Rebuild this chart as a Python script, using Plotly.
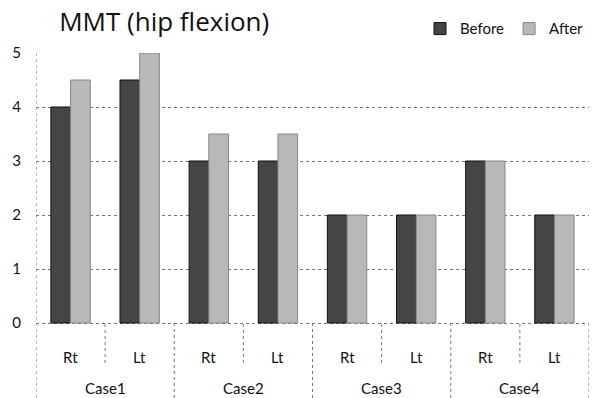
import plotly.graph_objects as go

cases = ["Case1", "Case2", "Case3", "Case4"]
sides = ["Rt", "Lt"]
before = [4, 4.5, 3, 3, 2, 2, 3, 2]
after = [4.5, 5, 3.5, 3.5, 2, 2, 3, 2]
yticks = [0, 1, 2, 3, 4, 5]

n = len(cases) * len(sides)
xs = list(range(n))
tick_text = [sides[i % 2] for i in xs]

FONT = "Lato"
fig = go.Figure()
fig.add_trace(go.Bar(x=xs, y=before, name="Before",
                     marker=dict(color="#454545", line=dict(color="#111111", width=1))))
fig.add_trace(go.Bar(x=xs, y=after, name="After",
                     marker=dict(color="#b8b8b8", line=dict(color="#888888", width=1))))

# the category label rows live below y=0 inside the plotting area (54 px per unit)
u = 1 / 54.0
y_bottom = -75 * u
y_inner = -40 * u

# divider lines as one line trace (None breaks between segments)
dx, dy = [-0.5, -0.5, None], [y_bottom, max(yticks), None]
for i in range(1, n + 1):
    outer = (i % 2 == 0)
    dx += [i - 0.5, i - 0.5, None]
    dy += [y_bottom if outer else y_inner, 0, None]
fig.add_trace(go.Scatter(x=dx, y=dy, mode="lines", showlegend=False, hoverinfo="skip",
                         line=dict(color="#777777", width=1, dash="dot")))

annotations = []
for k, c in enumerate(cases):
    annotations.append(dict(x=2 * k + 0.5, y=-65 * u, xref="x", yref="y", text=c,
                            showarrow=False, xanchor="center", yanchor="middle",
                            font=dict(family=FONT, size=15, color="#111111")))
for i in xs:
    annotations.append(dict(x=i, y=-34 * u, xref="x", yref="y", text=tick_text[i],
                            showarrow=False, xanchor="center", yanchor="middle",
                            font=dict(family=FONT, size=15, color="#111111")))

fig.update_layout(
    width=592, height=398,
    margin=dict(l=36, r=3, t=53, b=0),
    paper_bgcolor="white", plot_bgcolor="white",
    title=dict(text="MMT (hip flexion)", x=0.1, xanchor="left", y=0.945, yanchor="middle",
               font=dict(family="Open Sans", size=26, color="#111111")),
    barmode="group", bargap=0.43, bargroupgap=0.0,
    legend=dict(orientation="h", x=1.0, xanchor="right", y=1.07, yanchor="middle",
                font=dict(family=FONT, size=15, color="#111111"),
                itemwidth=30, traceorder="normal"),
    xaxis=dict(range=[-0.5, n - 0.5], showticklabels=False, showgrid=False,
               zeroline=False, showline=False, ticks=""),
    yaxis=dict(range=[y_bottom, max(yticks)], tickvals=yticks, showgrid=True,
               gridcolor="#777777", griddash="dot",
               gridwidth=1, zeroline=False, showline=False, ticks="",
               tickfont=dict(family=FONT, size=15, color="#111111"), ticklabelstandoff=14),
    annotations=annotations,
)
fig.write_html("out.html")
